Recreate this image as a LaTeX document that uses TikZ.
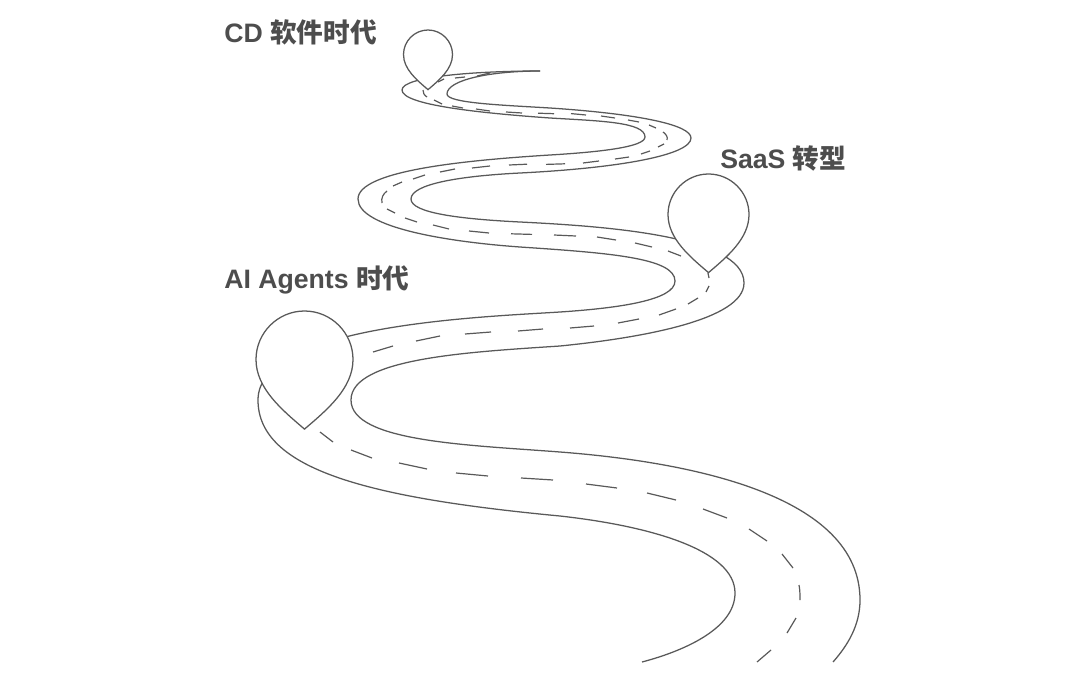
\documentclass[tikz,border=0pt]{standalone}
\usepackage{fontspec}
\setmainfont{Liberation Sans}
\newfontfamily\cjk{Noto Sans CJK SC}
\definecolor{ink}{HTML}{595959}
\definecolor{label}{HTML}{4D4D4D}
\tikzset{
  edge/.style={draw=ink,line width=0.95pt},
  lane/.style={draw=ink,line width=0.9pt},
  pinshape/.style={draw=ink,fill=white,line width=0.95pt},
  caption/.style={anchor=base west,inner sep=0pt,text=label,font=\fontsize{20pt}{23pt}\selectfont\bfseries}
}
\newcommand{\pinat}[3]{%
  \begin{scope}[shift={(#1,#2)},scale=#3]
    \path[pinshape] (0,1.435) .. controls (-0.45,1.05) and (-1,0.6) .. (-1,0)
      .. controls (-1,-0.55) and (-0.55,-1) .. (0,-1)
      .. controls (0.55,-1) and (1,-0.55) .. (1,0)
      .. controls (1,0.6) and (0.45,1.05) .. (0,1.435) -- cycle;
  \end{scope}}
\begin{document}
\begin{tikzpicture}[x=0.75pt,y=-0.75pt]
\useasboundingbox (0,0) rectangle (1080,685);
% road edge A
\draw[edge] (540,71) .. controls (480,71) and (402,76) .. (402,90)
  .. controls (402,105) and (480,113) .. (550,118)
  .. controls (600,121) and (645,122) .. (645,137)
  .. controls (645,147) and (600,152) .. (550,155)
  .. controls (470,160) and (358,170) .. (358,199)
  .. controls (358,228) and (450,242) .. (520,247)
  .. controls (610,253) and (675,258) .. (675,281)
  .. controls (675,300) and (620,308) .. (560,312)
  .. controls (480,317) and (258,325) .. (258,400)
  .. controls (258,470) and (370,498) .. (560,516)
  .. controls (650,526) and (735,550) .. (735,593)
  .. controls (735,630) and (680,652) .. (642,662);
% road edge B
\draw[edge] (540,71) .. controls (490,71) and (447,80) .. (447,94)
  .. controls (447,103) and (500,105) .. (550,108)
  .. controls (640,114) and (691,125) .. (691,138)
  .. controls (691,155) and (620,168) .. (520,173)
  .. controls (460,176) and (411,184) .. (411,199)
  .. controls (411,213) and (460,219) .. (520,222)
  .. controls (600,226) and (744,235) .. (744,283)
  .. controls (744,320) and (640,338) .. (560,346)
  .. controls (470,352) and (351,358) .. (351,400)
  .. controls (351,442) and (470,445) .. (560,452)
  .. controls (690,462) and (860,495) .. (860,600)
  .. controls (860,625) and (848,645) .. (833,662);
% centre line dashes
\foreach \xa/\ya/\xb/\yb in {
  477/76/490/73, 455/78/465/77, 438/82/444/79,
  434/100/442/104, 452/106/463/108, 476/109/490/111, 506/112/522/113,
  538/113.2/554/113.7, 571/113.6/586/115, 601/116/615/118, 628/120/639/122,
  649/125/656/128, 664/144/658/147, 650/151/641/154, 629/157/615/159,
  599/161/583/163, 565/163.8/546/164.4, 527/164.2/509/165, 490/166/472/168,
  455/169/440/172, 425/175/413/179, 402/182/393/186,
  387/209/395/213, 405/218/417/222, 433/225/449/229, 469/231/489/233,
  511/233.8/532/234.4, 554/235/576/236, 597/237/616/240, 635/243/652/247,
  668/251/681/256,
  708/273/709/278, 709/286/706/292, 698/298/688/304, 676/309/659/315,
  639/319/618/323, 594/326/570/328, 543/329/518/331, 491/332/465/334,
  440/336/416/341, 393/346/373/352,
  320/432/333/442, 351/450/372/458, 399/463/427/469, 456/473/488/476,
  521/478/553/480, 586/484/617/488, 647/493/676/500, 703/509/727/518,
  749/529/767/541, 782/554/793/568, 796/618/787/633, 771/650/757/662}
  {\draw[lane] (\xa,\ya) -- (\xb,\yb);}
\draw[lane] (423,90) .. controls (423,93) and (424,95) .. (427,97);
\draw[lane] (663,132) .. controls (666,134) and (668,137) .. (667,140);
\draw[lane] (387,191) .. controls (383,194) and (381,198) .. (382,203);
\draw[lane] (799,585) .. controls (800,590) and (800,595) .. (800,600);
% pins
\pinat{428}{54.5}{24.5}
\pinat{708.5}{214.5}{40.5}
\pinat{304.5}{359.5}{48.5}
% labels
\node[caption] (cd) at (224,42.5) {CD {\cjk 软件时代}};
\node[caption] (saas) at (720,168.5) {SaaS {\cjk 转型}};
\node[caption] (ai) at (224,288.5) {AI Agents {\cjk 时代}};
\end{tikzpicture}
\end{document}
